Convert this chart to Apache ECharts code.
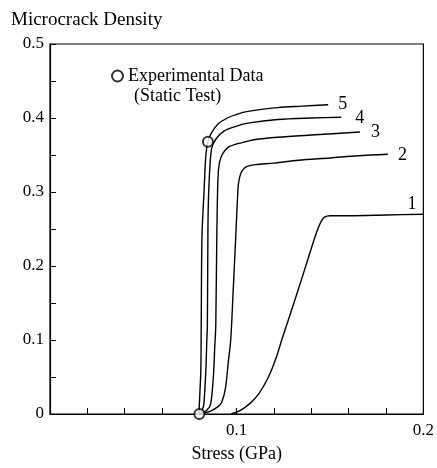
<!DOCTYPE html>
<html>
<head>
<meta charset="utf-8">
<script src="https://cdn.jsdelivr.net/npm/echarts@6/dist/echarts.min.js"></script>
<style>html,body{margin:0;padding:0;background:#fff;}#c{width:437px;height:468px;}</style>
</head>
<body>
<div id="c"></div>
<script>
// Curve data: [stress (GPa), microcrack density]
const curve1 = [[0.097,0],[0.102,0.005],[0.107,0.014],[0.112,0.028],[0.117,0.050],[0.121,0.075],[0.1245,0.103],[0.130,0.145],[0.135,0.184],[0.140,0.224],[0.143,0.247],[0.145,0.259],[0.147,0.266],[0.150,0.268],[0.160,0.268],[0.180,0.269],[0.200,0.270]];
const curve2 = [[0.081,0],[0.086,0.004],[0.090,0.010],[0.092,0.016],[0.094,0.035],[0.0955,0.070],[0.0968,0.10],[0.098,0.16],[0.0995,0.24],[0.1005,0.295],[0.101,0.312],[0.1025,0.327],[0.105,0.334],[0.110,0.337],[0.120,0.339],[0.133,0.343],[0.150,0.346],[0.165,0.349],[0.181,0.351]];
const curve3 = [[0.081,0],[0.084,0.005],[0.086,0.013],[0.0875,0.05],[0.0883,0.093],[0.0888,0.12],[0.0894,0.25],[0.090,0.32],[0.0908,0.34],[0.0925,0.352],[0.0957,0.361],[0.100,0.365],[0.105,0.368],[0.110,0.371],[0.122,0.374],[0.140,0.377],[0.166,0.381]];
const curve4 = [[0.0805,0],[0.0815,0.005],[0.0824,0.013],[0.0835,0.06],[0.084,0.10],[0.0843,0.12],[0.0846,0.25],[0.085,0.30],[0.0858,0.34],[0.0867,0.36],[0.089,0.372],[0.093,0.382],[0.100,0.389],[0.106,0.393],[0.122,0.398],[0.140,0.400],[0.156,0.401]];
const curve5 = [[0.0798,0],[0.080,0.013],[0.0808,0.06],[0.081,0.12],[0.0814,0.24],[0.0825,0.30],[0.0835,0.35],[0.0846,0.368],[0.0865,0.380],[0.090,0.392],[0.095,0.400],[0.100,0.405],[0.106,0.409],[0.122,0.414],[0.135,0.416],[0.149,0.418]];
const experimental = [[0.080,0],[0.0846,0.368]];
const curveNames = ['1','2','3','4','5'];
const xLabels = [0.1, 0.2];
const yLabels = [0, 0.1, 0.2, 0.3, 0.4, 0.5];

const FONT = '"Liberation Serif", "DejaVu Serif", serif';
const curves = [curve1, curve2, curve3, curve4, curve5];
const labelOffsets = [[-24,-10],[2,1],[3,0],[6,1],[2,0]];

const chart = echarts.init(document.getElementById('c'), null, {renderer:'canvas'});
const series = curves.map((d, i) => ({
  name: curveNames[i],
  type: 'line',
  data: d,
  showSymbol: false,
  smooth: 0.3,
  lineStyle: {color:'#000', width:1.4},
  itemStyle: {color:'#000'},
  endLabel: {show:true, formatter: curveNames[i], color:'#000', fontFamily: FONT, fontSize:18, offset: labelOffsets[i]},
  z: 2
}));
series.push({
  name: 'Experimental Data',
  type: 'scatter',
  data: experimental,
  symbol: 'emptyCircle',
  symbolSize: 10,
  itemStyle: {color:'#000', borderColor:'#000', borderWidth:1.3},
  z: 5
});

chart.setOption({
  animation: false,
  backgroundColor: '#fff',
  title: {text:'Microcrack Density', left: 6, top: 6, textStyle:{fontFamily:FONT, fontSize:19, fontWeight:'normal', color:'#000'}},
  legend: {data:['Experimental Data'], left: 106, top: 62, icon:'emptyCircle', itemWidth:11, itemHeight:11, itemGap:6,
    textStyle:{fontFamily:FONT, fontSize:18, color:'#000'}},
  graphic: [{type:'text', left: 134, top: 87, style:{text:'(Static Test)', font:'18px ' + FONT, fill:'#000'}}],
  grid: {left:50, right:11, top:44, bottom:48, show:true, borderColor:'#000', borderWidth:1.2},
  xAxis: {type:'value', min:0, max:0.2, interval:0.02,
    name:'Stress (GPa)', nameLocation:'middle', nameGap:31, nameTextStyle:{fontFamily:FONT, fontSize:18, color:'#000'},
    axisLine:{lineStyle:{color:'#000', width:1.2}},
    axisTick:{inside:true, length:6, lineStyle:{color:'#000'}},
    splitLine:{show:false},
    axisLabel:{color:'#000', fontFamily:FONT, fontSize:17, margin:8,
      formatter: v => { const m = xLabels.find(t => Math.abs(t - v) < 1e-9); return m !== undefined ? String(m) : ''; }}
  },
  yAxis: {type:'value', min:0, max:0.5, interval:0.05,
    axisLine:{show:true, lineStyle:{color:'#000', width:1.2}},
    axisTick:{inside:true, length:6, lineStyle:{color:'#000'}},
    splitLine:{show:false},
    axisLabel:{color:'#000', fontFamily:FONT, fontSize:17, margin:6,
      formatter: v => { const m = yLabels.find(t => Math.abs(t - v) < 1e-9); return m !== undefined ? String(m) : ''; }}
  },
  series: series
});
</script>
</body>
</html>
